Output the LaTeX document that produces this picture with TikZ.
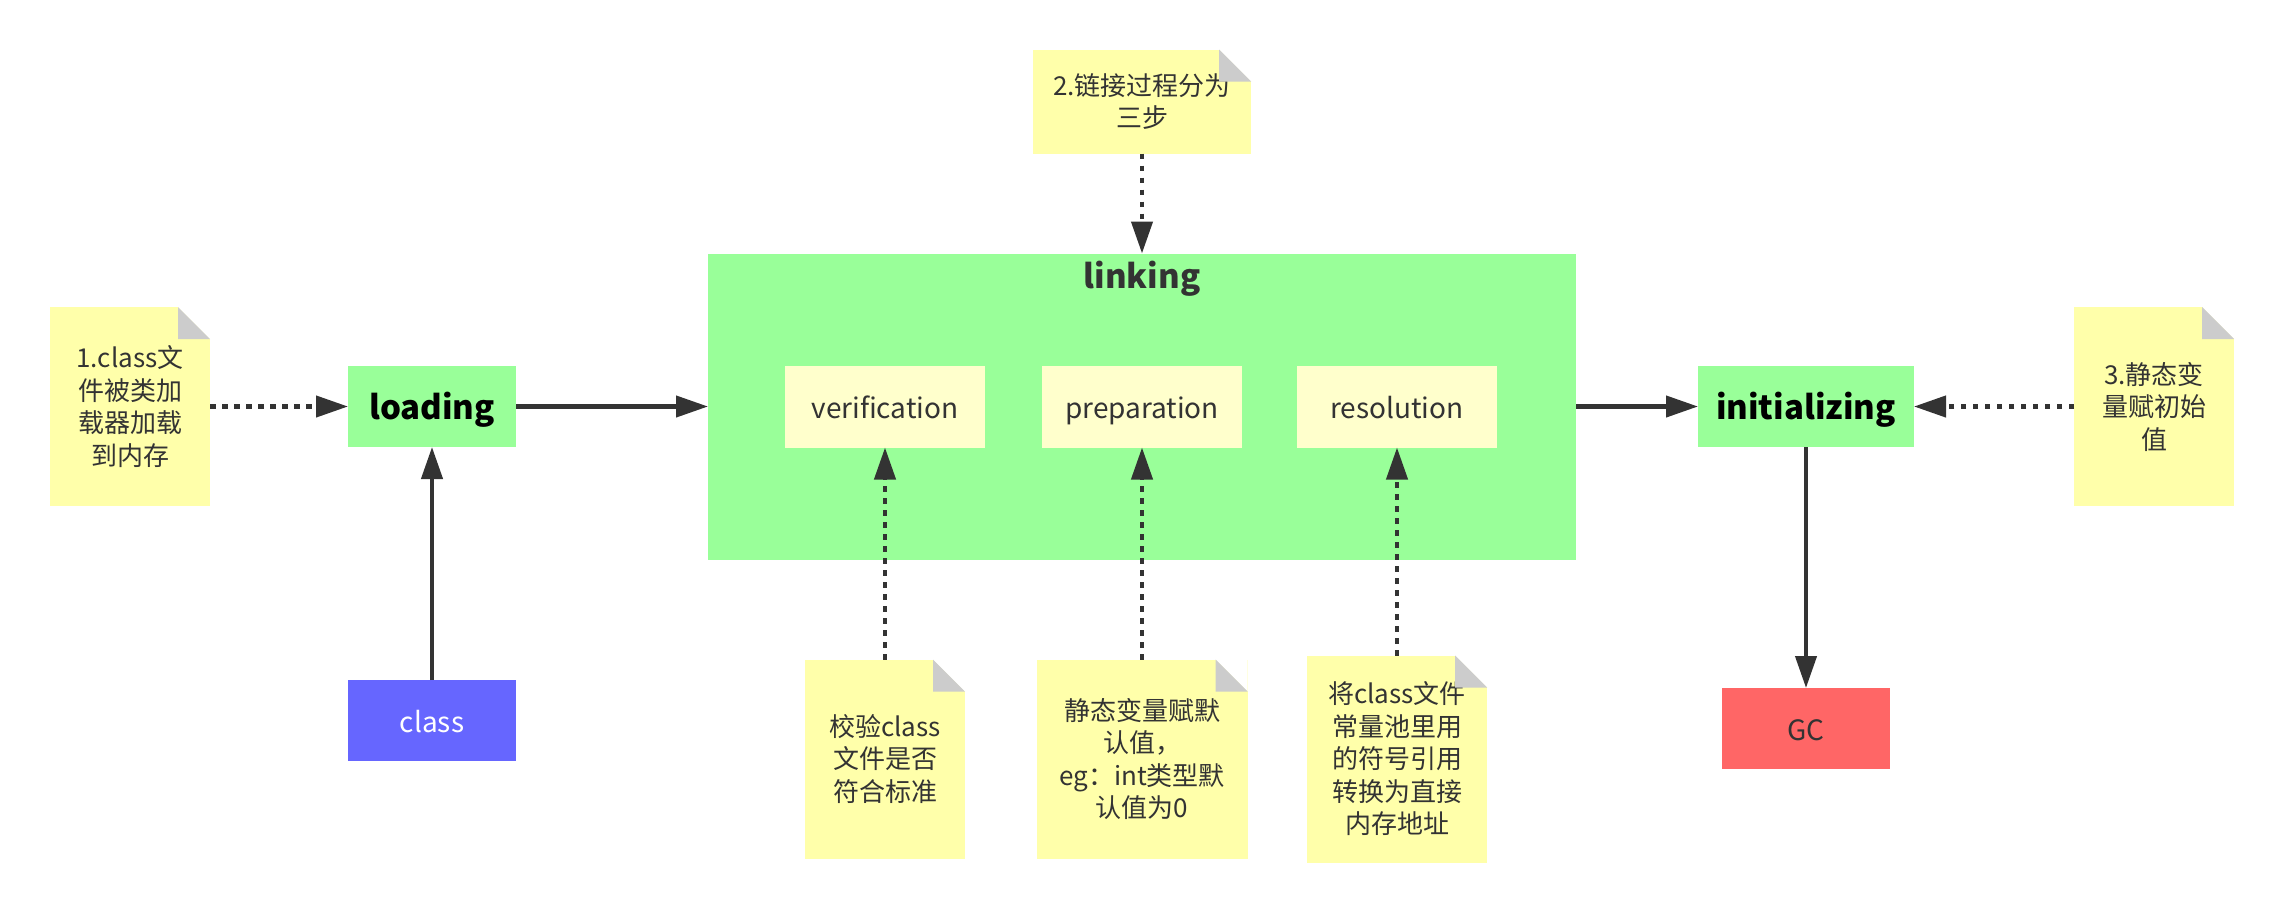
\documentclass[tikz,border=0pt]{standalone}
\usepackage{fontspec}
\setmainfont{Noto Sans CJK SC}
\usetikzlibrary{positioning, arrows.meta}
\usetikzlibrary{calc}

\definecolor{stagegreen}{HTML}{99FF99}
\definecolor{noteyellow}{HTML}{FFFFAA}
\definecolor{stepyellow}{HTML}{FFFFCC}
\definecolor{foldgray}{HTML}{CCCCCC}
\definecolor{classblue}{HTML}{6666FF}
\definecolor{gcred}{HTML}{FF6666}
\definecolor{linegray}{HTML}{333333}

\begin{document}
\begin{tikzpicture}[x=1pt, y=-1pt, on grid, auto,
    >={Triangle[length=32pt, width=21pt]},
    stage/.style={fill=stagegreen, outer sep=0pt, minimum width=168pt, minimum height=81pt,
        font=\bfseries\fontsize{33}{38}\selectfont, text=black, text height=27pt, text depth=1pt},
    block/.style={outer sep=0pt, minimum width=168pt, minimum height=81pt,
        font=\fontsize{28}{32.5}\selectfont, text=linegray, text height=24pt, text depth=0.5pt},
    stepbox/.style={fill=stepyellow, outer sep=0pt, minimum width=200pt, minimum height=82pt,
        font=\fontsize{28}{32.5}\selectfont, text=linegray, text height=24pt, text depth=0.5pt},
    frame/.style={fill=stagegreen, outer sep=0pt, minimum width=868pt, minimum height=306pt},
    note/.style={fill=noteyellow, outer sep=0pt, minimum width=160pt, minimum height=199pt,
        align=center, font=\fontsize{26}{32.5}\selectfont, text=linegray},
    hint/.style={dash pattern=on 5.5pt off 6.5pt}]
    \fill[white] (0,0) rectangle (2284,914);
    \useasboundingbox (0,0) rectangle (2284,914);

    \node[stage] (loading) at (432,406.5) {loading};
    \node[note] (nt1) [left=302pt of loading] {1.class文\\件被类加\\载器加载\\到内存};
    \node[block, fill=classblue, text=white] (cls) [below=314pt of loading] {class};

    \node[frame] (linking) [right=710pt of loading] {};
    \node[font=\bfseries\fontsize{33}{38}\selectfont, text=linegray] (linktitle) at ($(linking.north)+(0,25)$) {linking};
    \node[stepbox] (prep) at (linking.center) {preparation};
    \node[stepbox] (verif) [left=257pt of prep] {verification};
    \node[stepbox] (resol) [right=255pt of prep] {resolution};

    \node[note, minimum width=218pt, minimum height=104pt] (nt2) [above=305pt of linking] {2.链接过程分为\\三步};
    \node[note] (ntv) [below=352.5pt of verif] {校验class\\文件是否\\符合标准};
    \node[note, minimum width=211pt] (ntp) [below=352.5pt of prep] {静态变量赋默\\认值，\\eg：int类型默\\认值为0};
    \node[note, minimum width=180pt, minimum height=207pt] (ntr) [below=352.5pt of resol] {将class文件\\常量池里用\\的符号引用\\转换为直接\\内存地址};

    \node[stage, minimum width=216pt] (init) [right=664pt of linking] {initializing};
    \node[block, fill=gcred] (gc) [below=322pt of init] {GC};
    \node[note] (nt3) [right=348pt of init] {3.静态变\\量赋初始\\值};

    % folded corners of the notes
    \foreach \n in {nt1, nt2, nt3, ntv, ntp, ntr} {
        \fill[white] (\n.north east) -- ++(-32,0) -- ++(32,32) -- cycle;
        \fill[foldgray] ($(\n.north east)+(-32,0)$) -- ++(0,32) -- ++(32,0) -- cycle;
    }

    \path[->, line width=4.2pt, color=linegray]
    (cls) edge (loading)
    (loading) edge (linking)
    (linking) edge (init)
    (init) edge (gc);

    \path[->, line width=4.2pt, color=linegray, hint]
    (nt1) edge (loading)
    (nt2) edge (linking)
    (ntv) edge (verif)
    (ntp) edge (prep)
    (ntr) edge (resol)
    (nt3) edge (init);
\end{tikzpicture}
\end{document}
